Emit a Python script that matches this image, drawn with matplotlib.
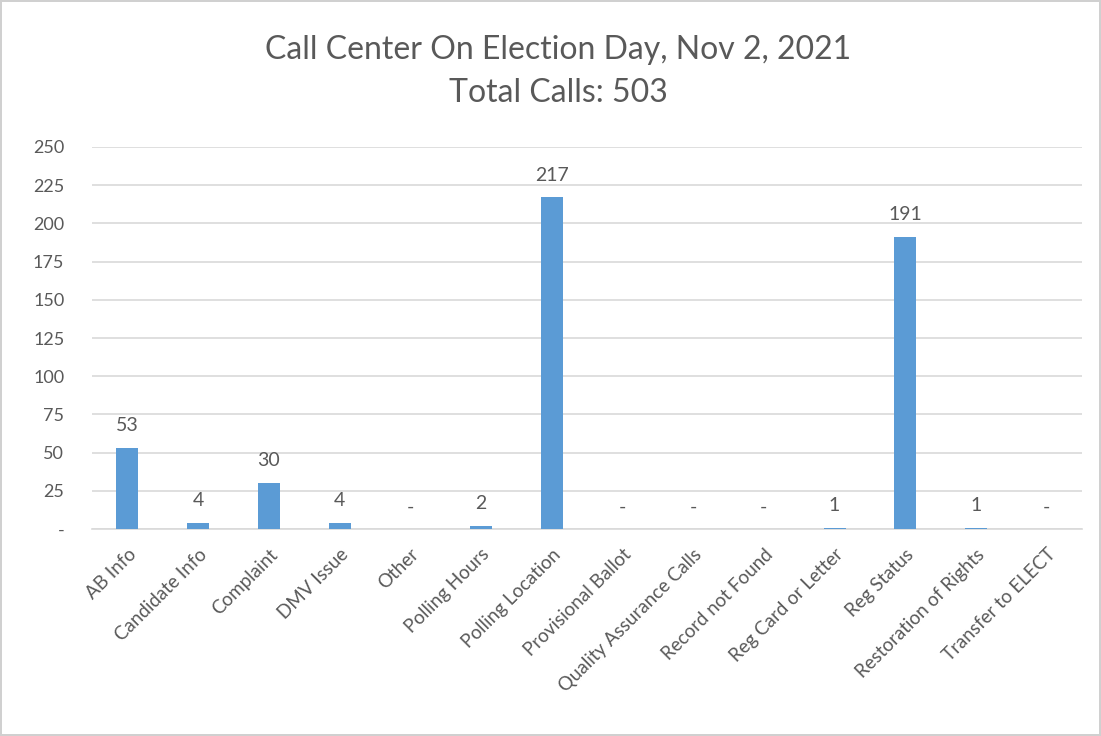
import matplotlib.pyplot as plt

categories = ['AB Info', 'Candidate Info', 'Complaint', 'DMV Issue', 'Other',
              'Polling Hours', 'Polling Location', 'Provisional Ballot',
              'Quality Assurance Calls', 'Record not Found', 'Reg Card or Letter',
              'Reg Status', 'Restoration of Rights', 'Transfer to ELECT']
calls = [53, 4, 30, 4, 0, 2, 217, 0, 0, 0, 1, 191, 1, 0]
y_ticks = [0, 25, 50, 75, 100, 125, 150, 175, 200, 225, 250]

text_color = '#595959'
bar_color = '#5B9BD5'
grid_color = '#D9D9D9'

plt.rcParams['font.family'] = ['Lato', 'DejaVu Sans']

fig = plt.figure(figsize=(11.01, 7.36), dpi=100)
fig.patch.set_edgecolor('#D0D0D0')
fig.patch.set_linewidth(1.5)
ax = fig.add_axes([0.0836, 0.2812, 0.8992, 0.5191])

x = list(range(len(categories)))
ax.bar(x, calls, width=0.31, color=bar_color, zorder=3)

# data labels, zeros shown as a dash like Excel accounting format
for xi, v in zip(x, calls):
    label = str(v) if v else '-'
    ax.text(xi, v + 9, label, ha='center', va='bottom', fontsize=14, color=text_color)

ax.set_xlim(-0.5, len(categories) - 0.5)
ax.set_ylim(0, 250)
ax.set_yticks(y_ticks)
ax.set_yticklabels(['-' if t == 0 else str(t) for t in y_ticks])
ax.set_xticks(x)
ax.set_xticklabels(categories, rotation=45, ha='right', rotation_mode='anchor')

ax.tick_params(axis='both', length=0, labelcolor=text_color)
ax.tick_params(axis='y', pad=20, labelsize=13)
ax.tick_params(axis='x', pad=12, labelsize=13.5)
ax.grid(axis='y', color=grid_color, linewidth=1.2, zorder=0)
for side in ['top', 'right', 'left']:
    ax.spines[side].set_visible(False)
ax.spines['bottom'].set_color(grid_color)
ax.spines['bottom'].set_linewidth(1.2)

fig.text(0.507, 0.903, 'Call Center On Election Day, Nov 2, 2021\nTotal Calls: 503',
         ha='center', va='center', fontsize=23, color=text_color, linespacing=1.55)

fig.savefig('out.png', dpi=100)
